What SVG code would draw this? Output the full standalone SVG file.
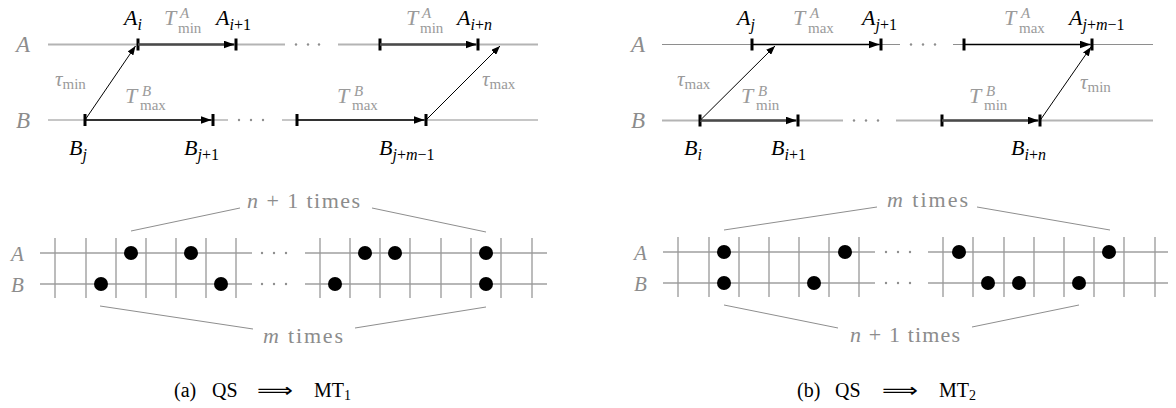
<svg xmlns="http://www.w3.org/2000/svg" width="1176" height="408" viewBox="0 0 1176 408">
<style>
text{font-family:Liberation Serif,DejaVu Serif,serif}
.it{font-style:italic}
.up{font-style:normal}
.row{font-style:italic;font-size:23px;fill:#8c8c8c}
.nl{font-style:italic;font-size:22px;fill:#000}
.sb{font-size:16px}
.tl{font-style:italic;font-size:22px;fill:#9a9a9a}
.ts{font-size:15px;fill:#9a9a9a;font-style:normal}
.tsi{font-size:15px;fill:#9a9a9a;font-style:italic}
.tau{font-style:italic;font-size:21px;fill:#9a9a9a}
.cnt{font-size:22px;fill:#8c8c8c}
.cap{font-size:20px;fill:#000}
.arr{font-family:DejaVu Sans,sans-serif;font-size:20px;fill:#000}
.light{stroke:#b4b4b4;stroke-width:2;fill:none}
.thin{stroke:#8e8e8e;stroke-width:1.2;fill:none}
.tick{stroke:#000;stroke-width:3}
.dk{stroke:#4a4a4a;stroke-width:2.4;fill:none}
.bk{stroke:#000;stroke-width:1.5;fill:none}
.dg{stroke:#000;stroke-width:1;fill:none}
.grid{stroke:#999;stroke-width:1.3;fill:none}
.gh{stroke:#a0a0a0;stroke-width:1.6;fill:none}
.br{stroke:#8e8e8e;stroke-width:1;fill:none}
.dot{fill:#000}
.ell{fill:#8e8e8e}
</style>
<defs>
<marker id="ah" markerUnits="userSpaceOnUse" markerWidth="11" markerHeight="8" refX="11" refY="4" orient="auto"><path d="M0,0 L11,4 L0,8 z" fill="#000"/></marker>
<marker id="as" markerUnits="userSpaceOnUse" markerWidth="9" markerHeight="7" refX="9" refY="3.5" orient="auto"><path d="M0,0 L9,3.5 L0,7 z" fill="#000"/></marker>
</defs>

<!-- ===== (a) top timeline ===== -->
<g id="a-timelines">
<path class="light" d="M48,44.5 H285 M338,44.5 H538"/>
<path class="thin" d="M48,120 H228 M282,120 H538"/>
<circle class="ell" cx="296" cy="44.5" r="1.2"/><circle class="ell" cx="308" cy="44.5" r="1.2"/><circle class="ell" cx="319" cy="44.5" r="1.2"/>
<circle class="ell" cx="239" cy="120" r="1.2"/><circle class="ell" cx="251" cy="120" r="1.2"/><circle class="ell" cx="263" cy="120" r="1.2"/>
<text class="row" x="16" y="52">A</text>
<text class="row" x="16" y="128">B</text>
</g>
<g id="a-Ai"><line class="tick" x1="138" y1="38.5" x2="138" y2="50.5"/><text class="nl" x="124" y="25">A<tspan class="sb" dy="5">i</tspan></text></g>
<g id="a-Ai1"><line class="tick" x1="236" y1="38.5" x2="236" y2="50.5"/><text class="nl" x="216" y="25">A<tspan class="sb" dy="5">i<tspan class="up">+1</tspan></tspan></text></g>
<g id="a-Ain0"><line class="tick" x1="380" y1="38.5" x2="380" y2="50.5"/></g>
<g id="a-Ain"><line class="tick" x1="478" y1="38.5" x2="478" y2="50.5"/><text class="nl" x="457" y="25">A<tspan class="sb" dy="5">i<tspan class="up">+</tspan>n</tspan></text></g>
<g id="a-Bj"><line class="tick" x1="85" y1="114" x2="85" y2="126"/><text class="nl" x="69" y="155">B<tspan class="sb" dy="5">j</tspan></text></g>
<g id="a-Bj1"><line class="tick" x1="213" y1="114" x2="213" y2="126"/><text class="nl" x="184" y="155">B<tspan class="sb" dy="5">j<tspan class="up">+1</tspan></tspan></text></g>
<g id="a-Bjm0"><line class="tick" x1="297" y1="114" x2="297" y2="126"/></g>
<g id="a-Bjm"><line class="tick" x1="426" y1="114" x2="426" y2="126"/><text class="nl" x="379" y="155">B<tspan class="sb" dy="5">j<tspan class="up">+</tspan>m<tspan class="up">−1</tspan></tspan></text></g>

<g id="a-connectors">
<path class="dk" d="M138,44.5 H234.5" marker-end="url(#ah)"/>
<path class="dk" d="M380,44.5 H476.5" marker-end="url(#ah)"/>
<path class="bk" d="M85,120 H211.5" marker-end="url(#ah)"/>
<path class="bk" d="M297,120 H424.5" marker-end="url(#ah)"/>
<path class="dg" d="M85,120 L135.5,46" marker-end="url(#as)"/>
<path class="dg" d="M426,120 L500,46" marker-end="url(#as)"/>
<text class="tl" x="164" y="25">T</text><text class="tsi" x="180" y="18">A</text><text class="ts" x="178" y="33">min</text>
<text class="tl" x="406" y="25">T</text><text class="tsi" x="422" y="18">A</text><text class="ts" x="420" y="33">min</text>
<text class="tl" x="125" y="103">T</text><text class="tsi" x="142" y="96">B</text><text class="ts" x="140" y="110">max</text>
<text class="tl" x="337" y="103">T</text><text class="tsi" x="354" y="96">B</text><text class="ts" x="352" y="110">max</text>
<text class="tau" x="55" y="86">τ<tspan class="ts" dy="3">min</tspan></text>
<text class="tau" x="482" y="86">τ<tspan class="ts" dy="3">max</tspan></text>
</g>

<!-- ===== (b) top timeline ===== -->
<g id="b-timelines">
<path class="thin" d="M662,44.5 H900 M953,44.5 H1153"/>
<path class="light" d="M662,120.5 H843 M896,120.5 H1153"/>
<circle class="ell" cx="911" cy="44.5" r="1.2"/><circle class="ell" cx="923" cy="44.5" r="1.2"/><circle class="ell" cx="935" cy="44.5" r="1.2"/>
<circle class="ell" cx="854" cy="120.5" r="1.2"/><circle class="ell" cx="866" cy="120.5" r="1.2"/><circle class="ell" cx="878" cy="120.5" r="1.2"/>
<text class="row" x="631" y="52">A</text>
<text class="row" x="631" y="128">B</text>
</g>
<g id="b-Aj"><line class="tick" x1="752" y1="38.5" x2="752" y2="50.5"/><text class="nl" x="737" y="25">A<tspan class="sb" dy="5">j</tspan></text></g>
<g id="b-Aj1"><line class="tick" x1="881" y1="38.5" x2="881" y2="50.5"/><text class="nl" x="862" y="25">A<tspan class="sb" dy="5">j<tspan class="up">+1</tspan></tspan></text></g>
<g id="b-Ajm0"><line class="tick" x1="964" y1="38.5" x2="964" y2="50.5"/></g>
<g id="b-Ajm"><line class="tick" x1="1092" y1="38.5" x2="1092" y2="50.5"/><text class="nl" x="1069" y="25">A<tspan class="sb" dy="5">j<tspan class="up">+</tspan>m<tspan class="up">−1</tspan></tspan></text></g>
<g id="b-Bi"><line class="tick" x1="700" y1="114.5" x2="700" y2="126.5"/><text class="nl" x="684" y="155">B<tspan class="sb" dy="5">i</tspan></text></g>
<g id="b-Bi1"><line class="tick" x1="798" y1="114.5" x2="798" y2="126.5"/><text class="nl" x="771" y="155">B<tspan class="sb" dy="5">i<tspan class="up">+1</tspan></tspan></text></g>
<g id="b-Bin0"><line class="tick" x1="942" y1="114.5" x2="942" y2="126.5"/></g>
<g id="b-Bin"><line class="tick" x1="1040" y1="114.5" x2="1040" y2="126.5"/><text class="nl" x="1011" y="155">B<tspan class="sb" dy="5">i<tspan class="up">+</tspan>n</tspan></text></g>

<g id="b-connectors">
<path class="bk" d="M752,44.5 H879.5" marker-end="url(#ah)"/>
<path class="bk" d="M964,44.5 H1090.5" marker-end="url(#ah)"/>
<path class="dk" d="M700,120.5 H796.5" marker-end="url(#ah)"/>
<path class="dk" d="M942,120.5 H1038.5" marker-end="url(#ah)"/>
<path class="dg" d="M700,120.5 L775,46" marker-end="url(#as)"/>
<path class="dg" d="M1040,120.5 L1091,47" marker-end="url(#as)"/>
<text class="tl" x="793" y="25">T</text><text class="tsi" x="810" y="18">A</text><text class="ts" x="808" y="33">max</text>
<text class="tl" x="1004" y="25">T</text><text class="tsi" x="1021" y="18">A</text><text class="ts" x="1019" y="33">max</text>
<text class="tl" x="741" y="103">T</text><text class="tsi" x="758" y="96">B</text><text class="ts" x="756" y="110">min</text>
<text class="tl" x="969" y="103">T</text><text class="tsi" x="986" y="96">B</text><text class="ts" x="984" y="110">min</text>
<text class="tau" x="677" y="86">τ<tspan class="ts" dy="3">max</tspan></text>
<text class="tau" x="1080" y="89">τ<tspan class="ts" dy="3">min</tspan></text>
</g>

<!-- ===== (a) bottom grid ===== -->
<g id="a-grid">
<path class="gh" d="M40,253 H252 M40,284 H252 M305,253 H547 M305,284 H547"/>
<path class="grid" d="M55,238 V298 M86,238 V298 M116,238 V298 M146,238 V298 M176,238 V298 M206,238 V298 M236,238 V298 M320,238 V298 M350,238 V298 M380,238 V298 M410,238 V298 M441,238 V298 M471,238 V298 M501,238 V298 M532,238 V298"/>
<circle class="ell" cx="262" cy="253" r="1.2"/><circle class="ell" cx="274" cy="253" r="1.2"/><circle class="ell" cx="286" cy="253" r="1.2"/>
<circle class="ell" cx="262" cy="284" r="1.2"/><circle class="ell" cx="274" cy="284" r="1.2"/><circle class="ell" cx="286" cy="284" r="1.2"/>
<circle class="dot" cx="131" cy="253" r="7"/><circle class="dot" cx="191" cy="253" r="7"/>
<circle class="dot" cx="101" cy="284" r="7"/><circle class="dot" cx="221" cy="284" r="7"/>
<circle class="dot" cx="365" cy="253" r="7"/><circle class="dot" cx="395" cy="253" r="7"/><circle class="dot" cx="486" cy="253" r="7"/>
<circle class="dot" cx="335" cy="284" r="7"/><circle class="dot" cx="486" cy="284" r="7"/>
<text class="row" x="11" y="261" style="font-size:21px">A</text>
<text class="row" x="11" y="292" style="font-size:21px">B</text>
<path class="br" d="M131,231 L240,208 M372,208 L486,232 M100,306 L253,329 M355,328 L486,307"/>
<text class="cnt" x="247" y="208" textLength="113" lengthAdjust="spacing"><tspan class="it">n</tspan> + 1 times</text>
<text class="cnt" x="263" y="343" textLength="80" lengthAdjust="spacing"><tspan class="it">m</tspan> times</text>
</g>

<!-- ===== (b) bottom grid ===== -->
<g id="b-grid">
<path class="gh" d="M663,252 H875 M663,283 H875 M928,252 H1168 M928,283 H1168"/>
<path class="grid" d="M678,237 V297 M709,237 V297 M739,237 V297 M769,237 V297 M799,237 V297 M829,237 V297 M859,237 V297 M943,237 V297 M973,237 V297 M1004,237 V297 M1034,237 V297 M1064,237 V297 M1094,237 V297 M1124,237 V297 M1155,237 V297"/>
<circle class="ell" cx="886" cy="252" r="1.2"/><circle class="ell" cx="898" cy="252" r="1.2"/><circle class="ell" cx="910" cy="252" r="1.2"/>
<circle class="ell" cx="886" cy="283" r="1.2"/><circle class="ell" cx="898" cy="283" r="1.2"/><circle class="ell" cx="910" cy="283" r="1.2"/>
<circle class="dot" cx="724" cy="252" r="7"/><circle class="dot" cx="845" cy="252" r="7"/><circle class="dot" cx="959" cy="252" r="7"/><circle class="dot" cx="1109" cy="252" r="7"/>
<circle class="dot" cx="724" cy="283" r="7"/><circle class="dot" cx="814" cy="283" r="7"/><circle class="dot" cx="988" cy="283" r="7"/><circle class="dot" cx="1019" cy="283" r="7"/><circle class="dot" cx="1079" cy="283" r="7"/>
<text class="row" x="634" y="260" style="font-size:21px">A</text>
<text class="row" x="634" y="291" style="font-size:21px">B</text>
<path class="br" d="M724,230 L877,207 M977,207 L1110,230 M724,305 L838,328 M972,327 L1079,305"/>
<text class="cnt" x="887" y="207" textLength="81" lengthAdjust="spacing"><tspan class="it">m</tspan> times</text>
<text class="cnt" x="850" y="342" textLength="110" lengthAdjust="spacing"><tspan class="it">n</tspan> + 1 times</text>
</g>

<!-- captions -->
<text class="cap" x="174" y="397">(a)</text>
<text class="cap" x="212" y="397">QS</text>
<text class="arr" x="257" y="397" textLength="36" lengthAdjust="spacingAndGlyphs">⟹</text>
<text class="cap" x="314" y="397">MT<tspan font-size="14" dy="3">1</tspan></text>
<text class="cap" x="797" y="397">(b)</text>
<text class="cap" x="835" y="397">QS</text>
<text class="arr" x="882" y="397" textLength="36" lengthAdjust="spacingAndGlyphs">⟹</text>
<text class="cap" x="939" y="397">MT<tspan font-size="14" dy="3">2</tspan></text>
</svg>
